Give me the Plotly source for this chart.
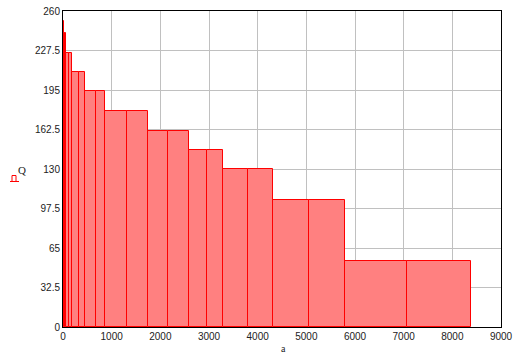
import plotly.graph_objects as go

# bar edges along a (left edge of each bar, last value is the right end)
edges = [0, 14, 41, 70, 123, 189, 329, 461, 683, 864, 1317, 1749, 2160, 2593,
         2951, 3292, 3807, 4321, 5062, 5790, 7078, 8374]
# bar heights Q
heights = [251.6, 242, 242, 225.6, 225.6, 209.5, 209.5, 193.9, 193.9, 178, 178,
           161.6, 161.6, 146, 146, 129.6, 129.6, 104.2, 104.2, 54.2, 54.2]

y_ticks = [0, 32.5, 65, 97.5, 130, 162.5, 195, 227.5, 260]
y_tick_text = ["0", "32.5", "65", "97.5", "130", "162.5", "195", "227.5", "260"]
x_ticks = [0, 1000, 2000, 3000, 4000, 5000, 6000, 7000, 8000, 9000]

centers = [(edges[i] + edges[i + 1]) / 2 for i in range(len(heights))]
widths = [edges[i + 1] - edges[i] for i in range(len(heights))]

L, R, T, B = 63, 29, 11, 36
W, H = 530, 363
pw, ph = W - L - R, H - T - B

def px(x, y):
    return (x - L) / pw, 1 - (y - T) / ph

fig = go.Figure()
fig.add_trace(go.Bar(
    x=centers, y=heights, width=widths,
    marker=dict(color="rgb(255,128,128)", line=dict(color="rgb(255,0,0)", width=1)),
    showlegend=False,
))

tickfont = dict(family="Liberation Sans", size=10, color="#222")
qx, qy = px(16, 170)
ax_, ay_ = px(283, 356)
fig.update_layout(
    width=W, height=H,
    margin=dict(l=L, r=R, t=T, b=B, autoexpand=False),
    paper_bgcolor="white", plot_bgcolor="white",
    bargap=0,
    xaxis=dict(range=[0, 9000], tickvals=x_ticks, showgrid=True, gridcolor="#c0c0c0",
               gridwidth=1, zeroline=False, showline=True, linecolor="black", linewidth=1,
               mirror=True, ticks="", tickfont=tickfont, automargin=False),
    yaxis=dict(range=[0, 260], tickvals=y_ticks, ticktext=y_tick_text, showgrid=True,
               gridcolor="#c0c0c0", gridwidth=1, zeroline=False, showline=True,
               linecolor="black", linewidth=1, mirror=True, ticks="", tickfont=tickfont,
               automargin=False),
    annotations=[
        dict(text="Q", x=qx, y=qy, xref="paper", yref="paper", showarrow=False,
             font=dict(family="Liberation Serif", size=11, color="#222")),
        dict(text="a", x=ax_, y=ay_, xref="paper", yref="paper", showarrow=False,
             font=dict(family="Liberation Serif", size=10, color="#222")),
    ],
)

# red trace-style marker under the Q label (decoration)
p0 = px(10, 181.5); p1 = px(19, 181.5)
fig.add_shape(type="line", xref="paper", yref="paper", x0=p0[0], y0=p0[1],
              x1=p1[0], y1=p1[1], line=dict(color="red", width=1))
a0 = px(12, 175.5); a1 = px(16, 175.5)
b0 = px(12, 181.5); b1 = px(16, 181.5)
fig.add_shape(type="path", xref="paper", yref="paper",
              path=f"M {b0[0]} {b0[1]} L {a0[0]} {a0[1]} L {a1[0]} {a1[1]} L {b1[0]} {b1[1]}",
              line=dict(color="red", width=1))

fig.write_html("out.html", config={"displayModeBar": False},
               post_script="document.body.style.margin='0';document.body.style.overflow='hidden';")
